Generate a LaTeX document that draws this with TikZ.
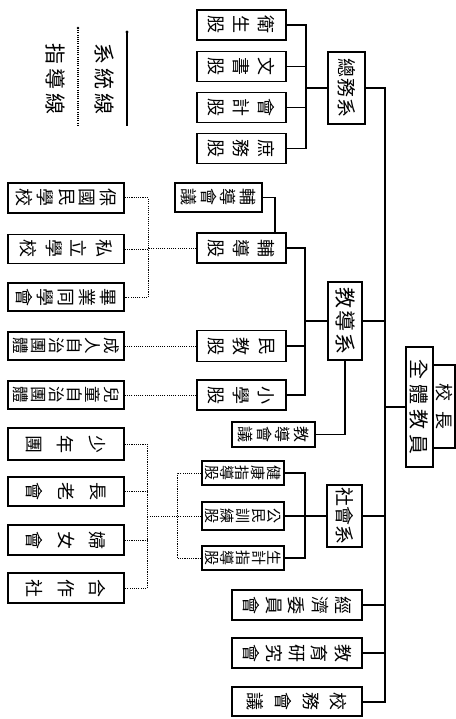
\documentclass[tikz,border=0pt]{standalone}
\usepackage{fontspec}
\newfontfamily\cjk{Noto Sans CJK TC}
\makeatletter
% vertical stack of characters (one per line), spread over #1
\newcommand\vstk[2]{\vbox to #1{\offinterlineskip\vss\@tfor\vch:=#2\do{\hbox to 1em{\hss\vch\hss}\vss}}}
% horizontal row of characters spread over #1
\newcommand\hstk[2]{\hbox to #1{\hss\@tfor\vch:=#2\do{\vch\hss}}}
\makeatother
\tikzset{
  bx/.style={draw, line width=1.6pt, rotate=-90, inner sep=0pt, fill=white,
    font=\cjk\fontsize{18}{18}\selectfont},
  conn/.style={line width=1.2pt},
  trunk/.style={line width=2pt},
  dotl/.style={line width=1pt, dash pattern=on 1.1pt off 1.1pt},
}
\begin{document}
\begin{tikzpicture}[x=1pt,y=-1pt]
\fill[white] (0,0) rectangle (455,719);
\useasboundingbox (0,0) rectangle (455,719);

% legend
\coordinate (ls1) at (127,32);
\coordinate (ls2) at (127,126);
\coordinate (ld1) at (78,28);
\coordinate (ld2) at (78,126);
\draw[line width=1.6pt] (ls1) -- (ls2);
\fill (ls1) circle (1.6pt);
\draw[dotl,line width=1.3pt] (ld1) -- (ld2);
\fill (ld1) circle (1.4pt);
\node[rotate=-90, inner sep=0pt, font=\cjk\fontsize{21}{21}\selectfont] (lg1) at (104,79) {\hstk{80pt}{系統線}};
\node[rotate=-90, inner sep=0pt, font=\cjk\fontsize{21}{21}\selectfont] (lg2) at (55,79) {\hstk{80pt}{指導線}};

% root
\node[bx, minimum width=120pt, minimum height=27pt, font=\cjk\fontsize{20}{20}\selectfont] (qt) at (419.5,407) {\hstk{104pt}{全體教員}};
\node[bx, minimum width=83pt, minimum height=22pt, font=\cjk\fontsize{18}{18}\selectfont] (xz) at (444,406.5) {\hstk{66pt}{校長}};

% departments
\node[bx, minimum width=72pt, minimum height=37pt, font=\cjk\fontsize{19}{19}\selectfont] (zw) at (346.5,88) {\hstk{62pt}{總務系}};
\node[bx, minimum width=78pt, minimum height=34pt, font=\cjk\fontsize{21}{21}\selectfont] (jd) at (345,321) {\hstk{70pt}{教導系}};
\node[bx, minimum width=62pt, minimum height=35pt, font=\cjk\fontsize{19}{19}\selectfont] (sh) at (344.5,516) {\hstk{56pt}{社會系}};

% 總務系 sections
\node[bx, minimum width=30pt, minimum height=89pt] (ws) at (241.5,25) {\vstk{84pt}{衛生股}};
\node[bx, minimum width=30pt, minimum height=89pt] (wsh) at (241.5,66.5) {\vstk{84pt}{文書股}};
\node[bx, minimum width=30pt, minimum height=89pt] (kj) at (241.5,107.5) {\vstk{84pt}{會計股}};
\node[bx, minimum width=30pt, minimum height=89pt] (sw) at (241.5,148.5) {\vstk{84pt}{庶務股}};

% 教導系 sections
\node[bx, minimum width=29pt, minimum height=87pt, font=\cjk\fontsize{17}{17}\selectfont] (fdhy) at (218.5,197.5) {\vstk{83pt}{輔導會議}};
\node[bx, minimum width=30pt, minimum height=89pt] (fd) at (241.5,248) {\vstk{84pt}{輔導股}};
\node[bx, minimum width=31pt, minimum height=89pt] (mj) at (241.5,346) {\vstk{84pt}{民教股}};
\node[bx, minimum width=30pt, minimum height=89pt] (xx) at (241.5,395) {\vstk{84pt}{小學股}};
\node[bx, minimum width=25pt, minimum height=83pt, font=\cjk\fontsize{16}{16}\selectfont] (jdhy) at (273.5,434.5) {\vstk{80pt}{教導會議}};

% schools and groups (guidance)
\node[bx, minimum width=30pt, minimum height=116pt] (bg) at (66,198) {\vstk{110pt}{保國民學校}};
\node[bx, minimum width=29pt, minimum height=116pt] (sl) at (66,249) {\vstk{110pt}{私立學校}};
\node[bx, minimum width=28pt, minimum height=116pt] (by) at (66,297) {\vstk{110pt}{畢業同學會}};
\node[bx, minimum width=28pt, minimum height=116pt, font=\cjk\fontsize{16.5}{16.5}\selectfont] (cr) at (66,346) {\vstk{112pt}{成人自治團體}};
\node[bx, minimum width=28pt, minimum height=116pt, font=\cjk\fontsize{16.5}{16.5}\selectfont] (et) at (66,395) {\vstk{112pt}{兒童自治團體}};

% 社會系 sections
\node[bx, minimum width=24pt, minimum height=82pt, font=\cjk\fontsize{15}{15}\selectfont] (jk) at (243,473) {\vstk{80pt}{健康指導股}};
\node[bx, minimum width=28pt, minimum height=82pt, font=\cjk\fontsize{15}{15}\selectfont] (gm) at (243,516) {\vstk{80pt}{公民訓練股}};
\node[bx, minimum width=24pt, minimum height=82pt, font=\cjk\fontsize{15}{15}\selectfont] (sj) at (243,558) {\vstk{80pt}{生計指導股}};

\node[bx, minimum width=32pt, minimum height=116pt] (sn) at (66,444) {\vstk{110pt}{少年團}};
\node[bx, minimum width=29pt, minimum height=116pt] (zl) at (66,491.5) {\vstk{110pt}{長老會}};
\node[bx, minimum width=30pt, minimum height=116pt] (fn) at (66,540) {\vstk{110pt}{婦女會}};
\node[bx, minimum width=30pt, minimum height=116pt] (hz) at (66,588) {\vstk{110pt}{合作社}};

% councils
\node[bx, minimum width=30pt, minimum height=130pt] (jj) at (297,605) {\vstk{122pt}{經濟委員會}};
\node[bx, minimum width=30pt, minimum height=130pt] (jy) at (297,653) {\vstk{122pt}{教育研究會}};
\node[bx, minimum width=29pt, minimum height=130pt] (xw) at (297,701.5) {\vstk{122pt}{校務會議}};

% trunk (solid system lines)
\coordinate (t) at (385,0);
\draw[trunk] (zw.north) -- (zw.north -| t) -- (xw.north -| t) -- (xw.north);
\draw[conn] (jd.north) -- (jd.north -| t);
\draw[conn] (sh.north) -- (sh.north -| t);
\draw[conn] (jj.north) -- (jj.north -| t);
\draw[conn] (jy.north) -- (jy.north -| t);
\draw[conn] (qt.south) -- (qt.south -| t);

% 總務系 branch
\coordinate (z) at (306,0);
\draw[conn] (zw.south) -- (zw.south -| z);
\draw[conn] (ws.north) -- (ws.north -| z) -- (sw.north -| z) -- (sw.north);
\draw[conn] (wsh.north) -- (wsh.north -| z);
\draw[conn] (kj.north) -- (kj.north -| z);

% 教導系 branch
\coordinate (j) at (305,0);
\draw[conn] (jd.south) -- (jd.south -| j);
\draw[conn] (fd.north) -- (fd.north -| j) -- (xx.north -| j) -- (xx.north);
\draw[conn] (mj.north) -- (mj.north -| j);
\coordinate (f) at (275,0);
\draw[conn] (fdhy.north) -- (fdhy.north -| f) -- (fd.west -| f);
\draw[conn] (jd.east) -- (jd.east |- jdhy.north) -- (jdhy.north);

% guidance lines of 教導系
\coordinate (d1) at (148,0);
\draw[dotl] (fd.south) -- (fd.south -| d1);
\draw[dotl] (bg.north) -- (bg.north -| d1) -- (by.north -| d1) -- (by.north);
\draw[dotl] (sl.north) -- (sl.north -| d1);
\draw[dotl] (mj.south) -- (cr.north);
\draw[dotl] (xx.south) -- (et.north);

% 社會系 branch
\coordinate (s) at (305,0);
\draw[conn] (sh.south) -- (sh.south -| s);
\draw[conn] (jk.north) -- (jk.north -| s) -- (sj.north -| s) -- (sj.north);
\draw[conn] (gm.north) -- (gm.north -| s);

% guidance lines of 社會系
\coordinate (s2) at (177,0);
\coordinate (d2) at (147,0);
\draw[dotl] (jk.south) -- (jk.south -| s2) -- (sj.south -| s2) -- (sj.south);
\draw[dotl] (gm.south) -- (gm.south -| d2);
\draw[dotl] (sn.north) -- (sn.north -| d2) -- (hz.north -| d2) -- (hz.north);
\draw[dotl] (zl.north) -- (zl.north -| d2);
\draw[dotl] (fn.north) -- (fn.north -| d2);
\end{tikzpicture}
\end{document}
